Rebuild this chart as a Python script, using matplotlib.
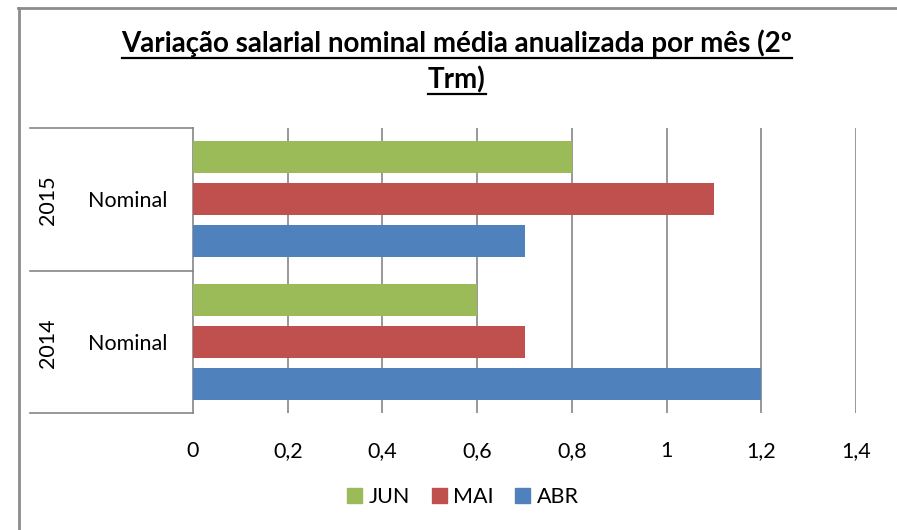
import matplotlib
matplotlib.use("Agg")
import matplotlib.pyplot as plt
from matplotlib.lines import Line2D
from matplotlib.patches import Patch

plt.rcParams['font.family'] = ['Lato', 'DejaVu Sans']

years = ['2014', '2015']
group_label = 'Nominal'
series = ['ABR', 'MAI', 'JUN']
values = {
    'ABR': [1.2, 0.7],
    'MAI': [0.7, 1.1],
    'JUN': [0.6, 0.8],
}
colors = {'ABR': '#4F81BD', 'MAI': '#C0504D', 'JUN': '#9BBB59'}
xticks = [0, 0.2, 0.4, 0.6, 0.8, 1, 1.2, 1.4]
title_lines = ['Variação salarial nominal média anualizada por mês (2º', 'Trm)']

W, H = 897, 530
fig = plt.figure(figsize=(W / 100, H / 100), dpi=100)

def fx(px):
    return px / W

def fy(py):
    return 1 - py / H

grid_c = '#868686'
fs = 15.5

# plot area
left, right, top, bottom = 193, 856, 128, 413
ax = fig.add_axes([fx(left), fy(bottom), fx(right - left), (bottom - top) / H])
ax.set_xlim(0, 1.4)
ax.set_ylim(0, 2)

step = 0.294
height = 0.224
for i, s in enumerate(series):
    off = (i - 1) * step
    ax.barh([g + 0.5 + off for g in range(len(years))], values[s], height=height,
            color=colors[s], zorder=3)

for t in xticks[1:]:
    ax.axvline(t, color=grid_c, lw=1.2, zorder=1)
for sp in ['top', 'right', 'bottom']:
    ax.spines[sp].set_visible(False)
ax.spines['left'].set_color(grid_c)
ax.spines['left'].set_linewidth(1.2)
ax.set_yticks([])
ax.set_xticks(xticks)
ax.set_xticklabels([str(t).replace('.', ',') for t in xticks], fontsize=fs)
ax.tick_params(axis='x', length=0, pad=20)

# category box on the left
box_l = 30
for py in [top, (top + bottom) / 2, bottom]:
    fig.add_artist(Line2D([fx(box_l), fx(left)], [fy(py), fy(py)], color=grid_c, lw=1.2))
for g, yr in enumerate(years):
    cy = bottom - (g + 0.5) * (bottom - top) / 2
    fig.text(fx(48), fy(cy + 1), yr, rotation=90, ha='center', va='center', fontsize=fs)
    fig.text(fx(128), fy(cy + 2), group_label, ha='center', va='center', fontsize=fs)

# outer chart frame
fig.add_artist(Line2D([fx(18.5), fx(18.5)], [fy(8), 0], color='#8c8c8c', lw=2))
fig.add_artist(Line2D([fx(18), 1], [fy(8), fy(8)], color='#8c8c8c', lw=2))

# title with underline
renderer = fig.canvas.get_renderer()
for line, base in zip(title_lines, [52, 88]):
    t = fig.text(fx(457), fy(base), line, ha='center', va='baseline',
                 fontsize=20, fontweight='bold')
    bb = t.get_window_extent(renderer)
    uy = fy(base + 6)
    fig.add_artist(Line2D([bb.x0 / W, bb.x1 / W], [uy, uy], color='black', lw=1.6))

handles = [Patch(color=colors[s], label=s) for s in ['JUN', 'MAI', 'ABR']]
fig.legend(handles=handles, loc='center', bbox_to_anchor=(fx(463), fy(497)), ncol=3,
           frameon=False, fontsize=fs, handlelength=0.7, handleheight=0.7,
           handletextpad=0.3, columnspacing=1.0)

fig.savefig('out.png', dpi=100)
